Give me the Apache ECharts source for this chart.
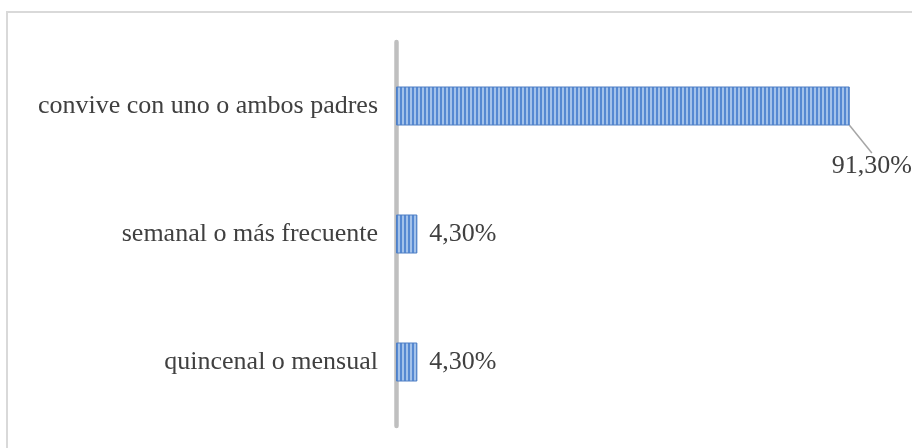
<!DOCTYPE html>
<html>
<head>
<meta charset="utf-8">
<script src="https://cdn.jsdelivr.net/npm/echarts@6/dist/echarts.min.js"></script>
<style>
  html, body { margin: 0; padding: 0; background: #ffffff; }
  #chart { width: 912px; height: 448px; }
</style>
</head>
<body>
<div id="chart"></div>
<script>
// Frecuencia de contacto con los padres
const categories = ['convive con uno o ambos padres', 'semanal o más frecuente', 'quincenal o mensual'];
const values = [91.3, 4.3, 4.3];
const valueLabels = ['91,30%', '4,30%', '4,30%'];

// Vertical striped fill for the bars
function stripePattern() {
  const c = document.createElement('canvas');
  c.width = 4; c.height = 40;
  const ctx = c.getContext('2d');
  ctx.fillStyle = '#a3c2ea';
  ctx.fillRect(0, 0, 4, 40);
  ctx.fillStyle = '#5689d2';
  ctx.fillRect(0, 0, 2, 40);
  return c;
}

const chart = echarts.init(document.getElementById('chart'), null, { renderer: 'canvas' });
const serif = '"Liberation Serif", "Times New Roman", serif';

chart.setOption({
  animation: false,
  backgroundColor: '#ffffff',
  graphic: [{
    type: 'rect',
    shape: { x: 7, y: 12, width: 930, height: 460 },
    style: { fill: 'none', stroke: '#d9d9d9', lineWidth: 2 },
    silent: true
  }],
  grid: { left: 396, right: 19, top: 42, bottom: 22, containLabel: false },
  xAxis: {
    type: 'value', min: 0, max: 100, show: false
  },
  yAxis: {
    type: 'category',
    data: categories,
    inverse: true,
    axisLine: { show: true, lineStyle: { color: '#bfbfbf', width: 4.5 } },
    axisTick: { show: false },
    axisLabel: {
      margin: 18,
      fontFamily: serif,
      fontSize: 26,
      color: '#404040'
    }
  },
  series: [{
    type: 'bar',
    data: values.map((v, i) => ({
      value: v,
      labelLine: { show: i === 0, lineStyle: { color: '#a6a6a6', width: 1.5 } }
    })),
    barWidth: 39,
    itemStyle: {
      color: { image: stripePattern(), repeat: 'repeat' },
      borderColor: '#4f7fc4',
      borderWidth: 1
    },
    label: {
      show: true,
      position: 'right',
      distance: 12,
      fontFamily: serif,
      fontSize: 26,
      color: '#404040',
      formatter: p => valueLabels[p.dataIndex]
    },
    labelLayout: function (p) {
      if (p.dataIndex === 0) {
        return { dx: -30, dy: 60 };
      }
      return {};
    },
    labelLine: { show: false }
  }]
});
</script>
</body>
</html>
